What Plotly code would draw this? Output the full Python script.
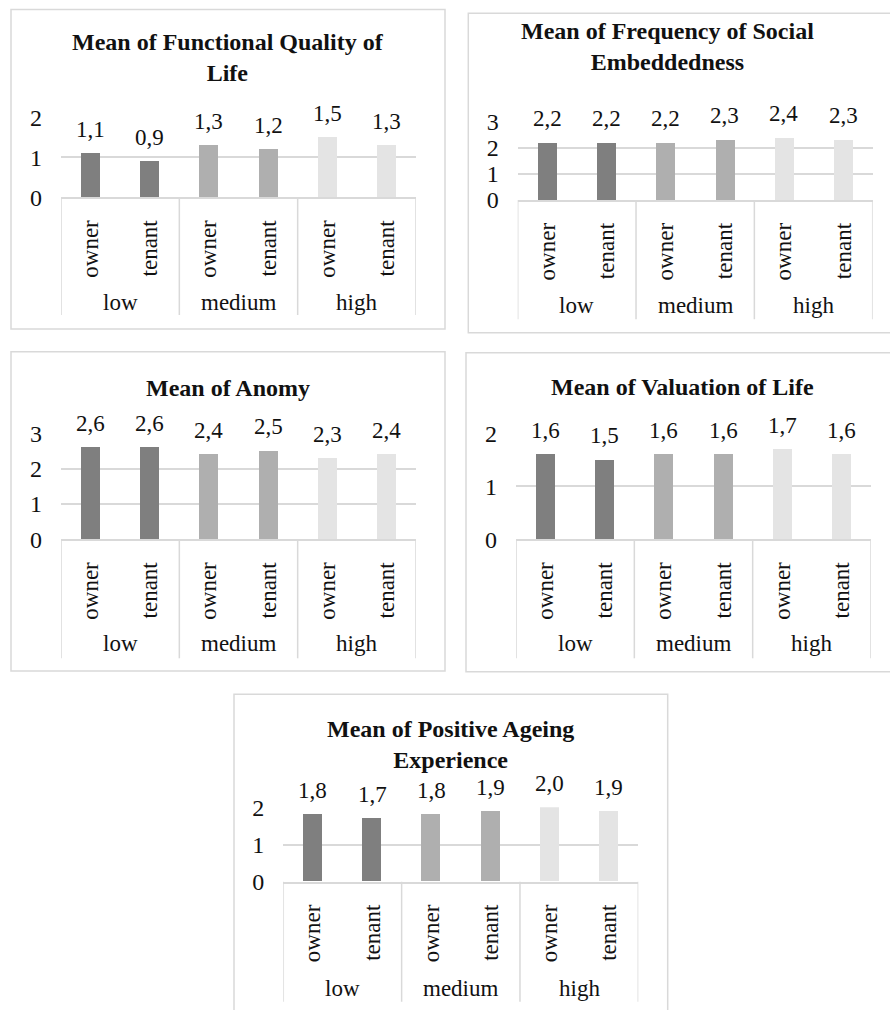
import plotly.graph_objects as go

# ---- data -------------------------------------------------------------
income_groups = ["low", "medium", "high"]
tenure = ["owner", "tenant"]

titles = [
    "Mean of Functional Quality of<br>Life",
    "Mean of Frequency of Social<br>Embeddedness",
    "Mean of Anomy",
    "Mean of Valuation of Life",
    "Mean of Positive Ageing<br>Experience",
]

functional_quality = [1.1, 0.9, 1.3, 1.2, 1.5, 1.3]
social_embeddedness = [2.2, 2.2, 2.2, 2.3, 2.4, 2.3]
anomy = [2.6, 2.6, 2.4, 2.5, 2.3, 2.4]
valuation_of_life = [1.6, 1.5, 1.6, 1.6, 1.7, 1.6]
positive_ageing = [1.8, 1.7, 1.8, 1.9, 2.0, 1.9]

series = [functional_quality, social_embeddedness, anomy, valuation_of_life, positive_ageing]
y_max = [2, 3, 3, 2, 2]

group_colors = ["#7f7f7f", "#afafaf", "#e4e4e4"]

# ---- page geometry (pixels) ------------------------------------------
W, H = 890, 1010
FONT = "Times New Roman, Liberation Serif, serif"
INK = "#111111"
GRID = "#d9d9d9"
FS = 23

# per panel: frame box, plot box (left, right, top, bottom), category-box bottom,
# group-label centre y, title centre (x, y)
panels = [
    dict(frame=(11, 445, 9.5, 329), plot=(61, 416, 117.3, 197.3), cat_bottom=315, grp_y=302, title=(228, 57.5)),
    dict(frame=(468.3, 900, 13.3, 332.7), plot=(517.7, 872.7, 121.7, 200), cat_bottom=319.3, grp_y=305, title=(667.7, 46.2)),
    dict(frame=(11, 445, 351.7, 671), plot=(61, 416, 433.3, 539.3), cat_bottom=658.3, grp_y=643.3, title=(227.7, 388.3)),
    dict(frame=(466, 900, 352.7, 671.7), plot=(516, 871, 433.3, 539.3), cat_bottom=658.3, grp_y=643.3, title=(682.7, 387.3)),
    dict(frame=(234, 667.7, 694.3, 1020), plot=(283.3, 638.3, 807.3, 881.7), cat_bottom=1001.7, grp_y=988.3, title=(450.7, 744.2)),
]


def px(x):
    return x / W


def py(y):
    return 1 - y / H


fig = go.Figure()
shapes = []
annotations = []
positions = list(range(len(income_groups) * len(tenure)))
tick_text = [t for _ in income_groups for t in tenure]

for i, (p, vals, title, ymax) in enumerate(zip(panels, series, titles, y_max)):
    n = "" if i == 0 else str(i + 1)
    xa, ya = "x" + n, "y" + n
    left, right, top, bottom = p["plot"]

    colors = [group_colors[k // len(tenure)] for k in positions]
    fig.add_trace(go.Bar(
        x=positions, y=vals, width=0.32,
        marker=dict(color=colors, line=dict(width=0)),
        xaxis=xa, yaxis=ya, showlegend=False, hoverinfo="skip",
    ))

    fig.update_layout(**{
        "xaxis" + n: dict(
            domain=[px(left), px(right)], anchor=ya, range=[-0.5, 5.5],
            tickmode="array", tickvals=positions, ticktext=tick_text,
            tickangle=-90, tickfont=dict(family=FONT, size=FS, color=INK),
            ticks="", ticklabelstandoff=12, automargin=False,
            showgrid=False, zeroline=False,
            showline=True, linecolor=GRID, linewidth=1.5, fixedrange=True,
        ),
        "yaxis" + n: dict(
            domain=[py(bottom), py(top)], anchor=xa, range=[0, ymax],
            tickmode="linear", tick0=0, dtick=1,
            tickfont=dict(family=FONT, size=FS + 1, color=INK),
            ticks="", ticklabelstandoff=18, automargin=False,
            showgrid=True, gridcolor=GRID, gridwidth=1.5,
            zeroline=False, showline=False, fixedrange=True,
        ),
    })

    # value labels above each bar
    for xi, v in zip(positions, vals):
        annotations.append(dict(
            x=xi, y=v, xref=xa, yref=ya, yanchor="middle", yshift=24,
            text=f"{v:.1f}".replace(".", ","), showarrow=False,
            font=dict(family=FONT, size=FS, color=INK),
        ))

    # outer category row: dividers and group names
    for b in [-0.5, 1.5, 3.5, 5.5]:
        shapes.append(dict(
            type="line", xref=xa, yref="paper", x0=b, x1=b,
            y0=py(bottom), y1=py(p["cat_bottom"]),
            line=dict(color=GRID, width=1.5),
        ))
    for g, name in enumerate(income_groups):
        annotations.append(dict(
            x=g * len(tenure) + 0.5, y=py(p["grp_y"]), xref=xa, yref="paper",
            yanchor="middle", text=name, showarrow=False,
            font=dict(family=FONT, size=FS, color=INK),
        ))

    # chart title
    tx, ty = p["title"]
    annotations.append(dict(
        x=px(tx), y=py(ty), xref="paper", yref="paper",
        xanchor="center", yanchor="middle", text=f"<b>{title}</b>",
        showarrow=False, font=dict(family=FONT, size=24, color=INK),
    ))

    # chart frame
    fl, fr, ft, fb = p["frame"]
    shapes.append(dict(
        type="rect", xref="paper", yref="paper",
        x0=px(fl), x1=px(fr), y0=py(fb), y1=py(ft),
        line=dict(color=GRID, width=1.5), fillcolor="rgba(0,0,0,0)", layer="below",
    ))

fig.update_layout(
    width=W, height=H, margin=dict(l=0, r=0, t=0, b=0, autoexpand=False),
    paper_bgcolor="white", plot_bgcolor="white",
    shapes=shapes, annotations=annotations, bargap=0,
)

fig.write_html("out.html")
